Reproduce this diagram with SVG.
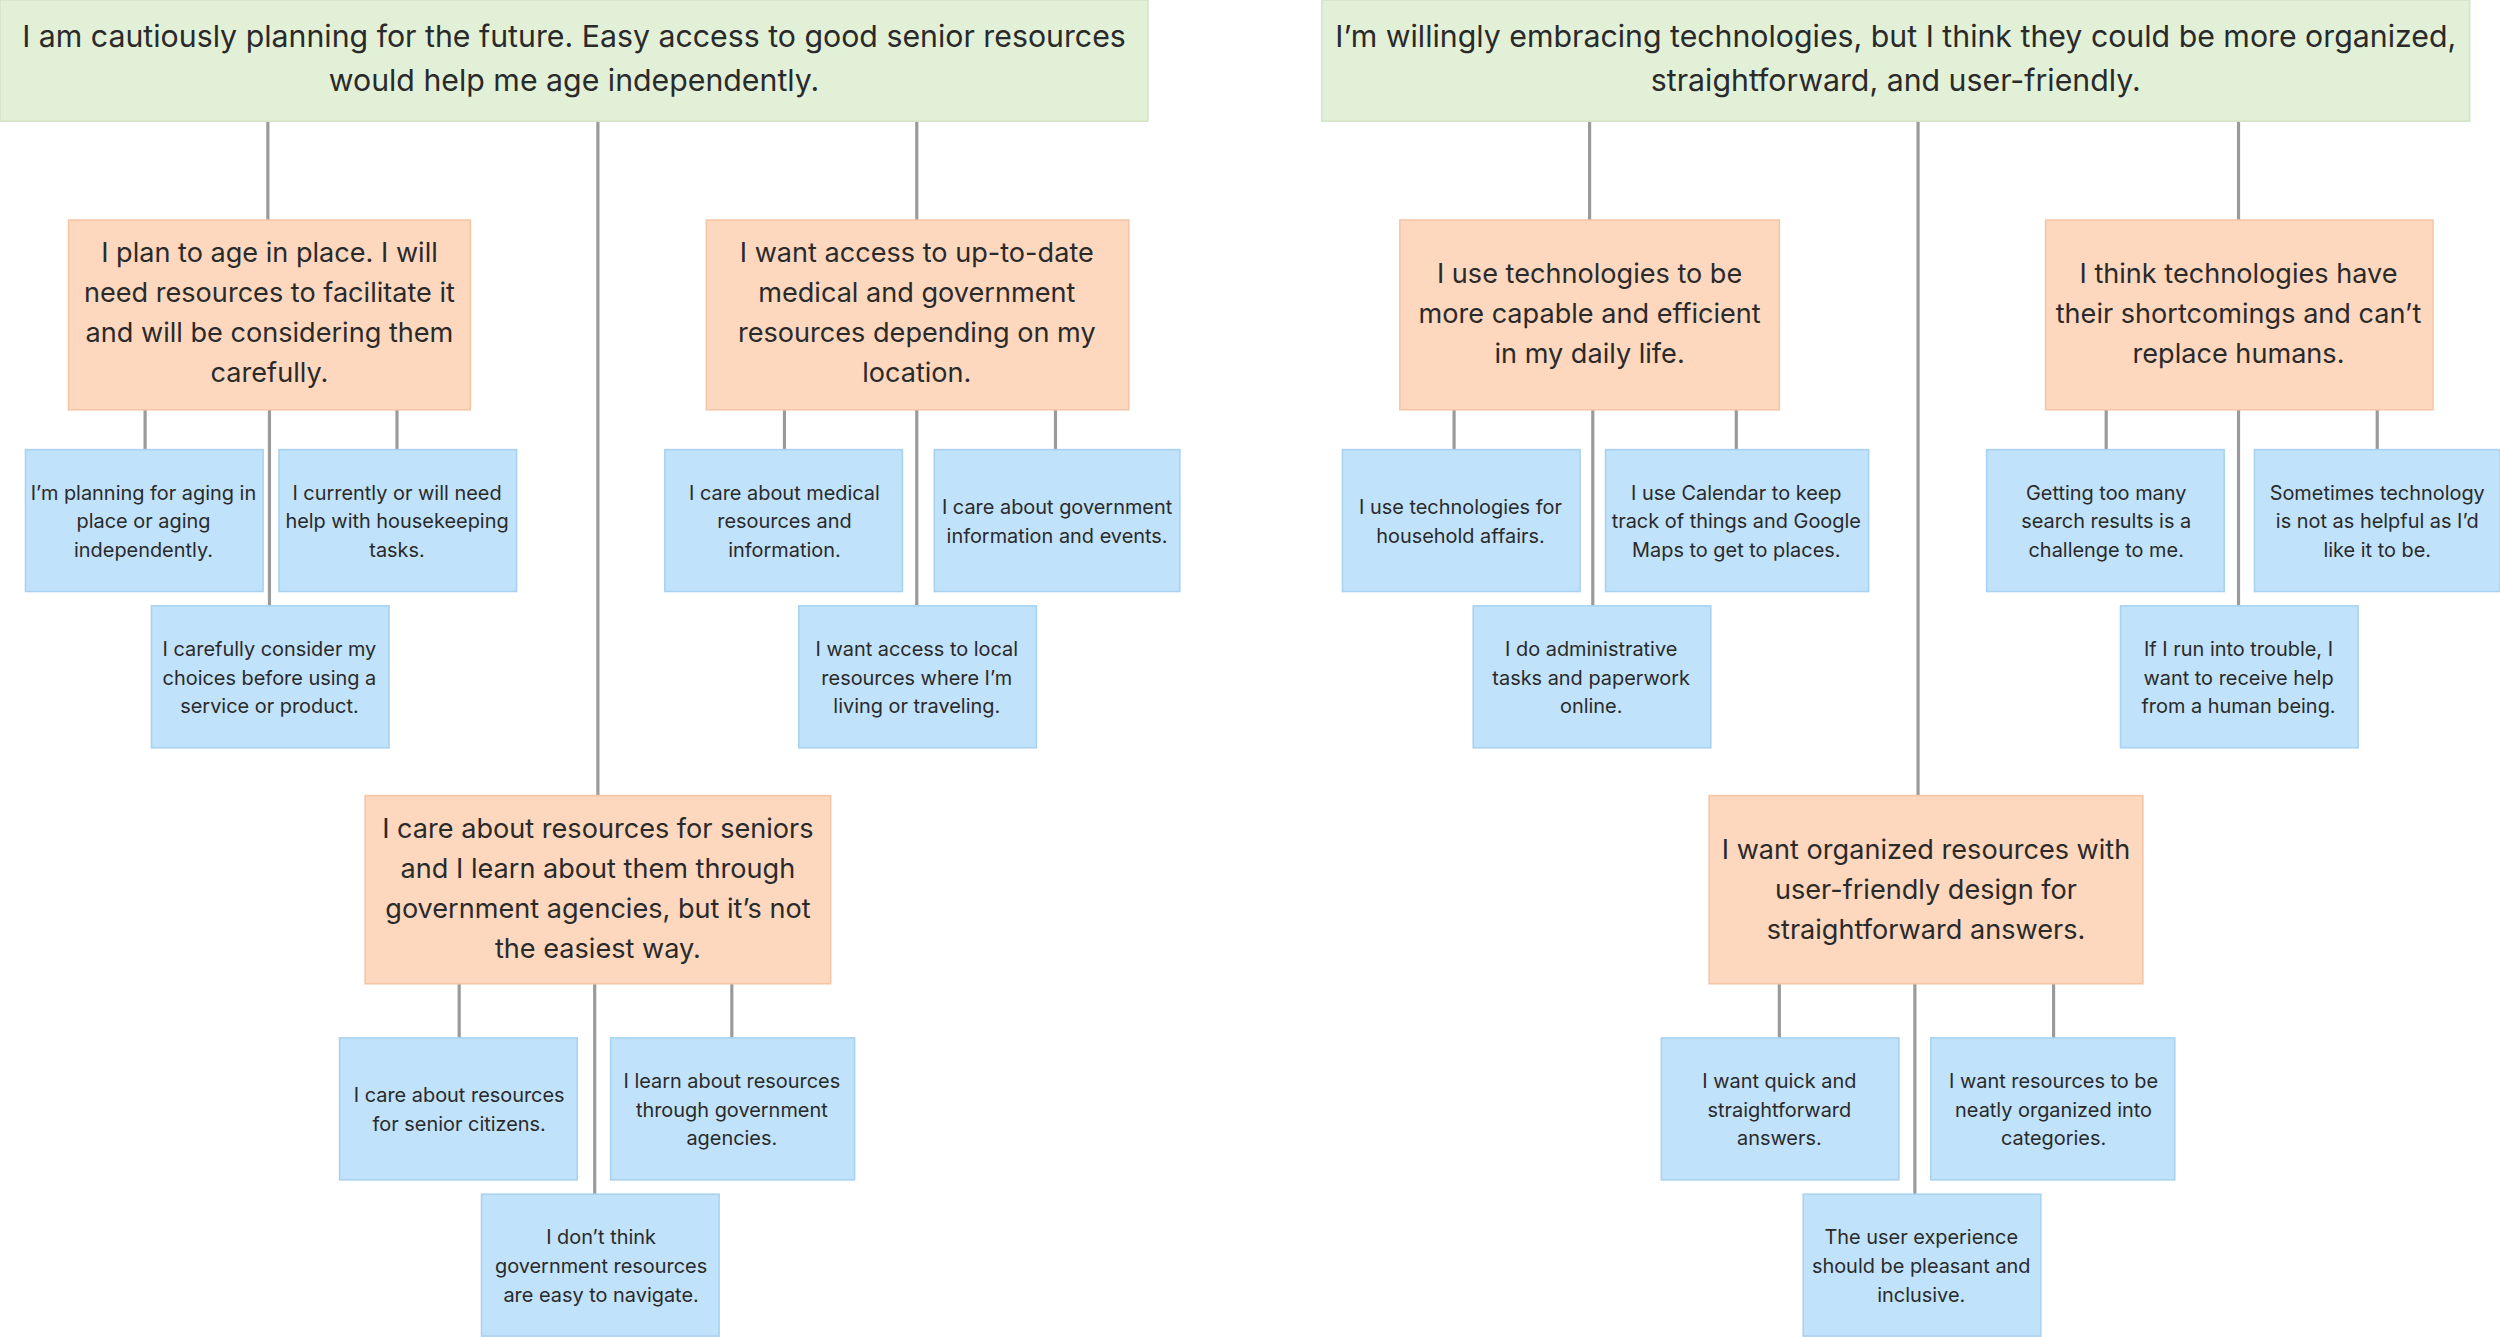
<svg xmlns="http://www.w3.org/2000/svg" width="2500" height="1337" viewBox="0 0 2500 1337">
<style>
text{font-family:Inter,"Noto Sans",sans-serif;fill:#2a2a2a;text-anchor:middle;dominant-baseline:middle}
.h rect{fill:#e3f0d8;stroke:#d3e5c6;stroke-width:1}
.h text{font-size:19px}
.o rect{fill:#fdd8bf;stroke:#f5c6a6;stroke-width:1}
.o text{font-size:17px}
.b rect{fill:#c1e2fb;stroke:#a9d2f0;stroke-width:1}
.b text{font-size:12.5px}
#c line{stroke:#9a9a9a;stroke-width:2}
</style>
<rect width="2500" height="1337" fill="#fff"/>
<g transform="scale(1.59439)">
<g id="c">
<line x1="168" y1="76" x2="168" y2="138"/><line x1="375" y1="76" x2="375" y2="499"/><line x1="575" y1="76" x2="575" y2="138"/>
<line x1="91" y1="257" x2="91" y2="282"/><line x1="169" y1="257" x2="169" y2="380"/><line x1="249" y1="257" x2="249" y2="282"/>
<line x1="492" y1="257" x2="492" y2="282"/><line x1="575" y1="257" x2="575" y2="380"/><line x1="662" y1="257" x2="662" y2="282"/>
<line x1="288" y1="617" x2="288" y2="651"/><line x1="373" y1="617" x2="373" y2="749"/><line x1="459" y1="617" x2="459" y2="651"/>
<line x1="997" y1="76" x2="997" y2="138"/><line x1="1203" y1="76" x2="1203" y2="499"/><line x1="1404" y1="76" x2="1404" y2="138"/>
<line x1="912" y1="257" x2="912" y2="282"/><line x1="999" y1="257" x2="999" y2="380"/><line x1="1089" y1="257" x2="1089" y2="282"/>
<line x1="1321" y1="257" x2="1321" y2="282"/><line x1="1404" y1="257" x2="1404" y2="380"/><line x1="1491" y1="257" x2="1491" y2="282"/>
<line x1="1116" y1="617" x2="1116" y2="651"/><line x1="1201" y1="617" x2="1201" y2="749"/><line x1="1288" y1="617" x2="1288" y2="651"/>
</g>
<g id="h1" class="h"><rect x="0" y="0" width="720" height="76"/><text x="360" y="24">I am cautiously planning for the future. Easy access to good senior resources</text><text x="360" y="52">would help me age independently.</text></g>
<g id="h2" class="h"><rect x="829" y="0" width="720" height="76"/><text x="1189" y="24">I’m willingly embracing technologies, but I think they could be more organized,</text><text x="1189" y="52">straightforward, and user-friendly.</text></g>
<g id="o1" class="o"><rect x="43" y="138" width="252" height="119"/><text x="169" y="160">I plan to age in place. I will</text><text x="169" y="185">need resources to facilitate it</text><text x="169" y="210">and will be considering them</text><text x="169" y="235">carefully.</text></g>
<g id="o2" class="o"><rect x="443" y="138" width="265" height="119"/><text x="575" y="160">I want access to up-to-date</text><text x="575" y="185">medical and government</text><text x="575" y="210">resources depending on my</text><text x="575" y="235">location.</text></g>
<g id="o3" class="o"><rect x="229" y="499" width="292" height="118"/><text x="375" y="521">I care about resources for seniors</text><text x="375" y="546">and I learn about them through</text><text x="375" y="571">government agencies, but it’s not</text><text x="375" y="596">the easiest way.</text></g>
<g id="o4" class="o"><rect x="878" y="138" width="238" height="119"/><text x="997" y="173">I use technologies to be</text><text x="997" y="198">more capable and efficient</text><text x="997" y="223">in my daily life.</text></g>
<g id="o5" class="o"><rect x="1283" y="138" width="243" height="119"/><text x="1404" y="173">I think technologies have</text><text x="1404" y="198">their shortcomings and can’t</text><text x="1404" y="223">replace humans.</text></g>
<g id="o6" class="o"><rect x="1072" y="499" width="272" height="118"/><text x="1208" y="534">I want organized resources with</text><text x="1208" y="559">user-friendly design for</text><text x="1208" y="584">straightforward answers.</text></g>
<g id="ba" class="b"><rect x="16" y="282" width="149" height="89"/><text x="90" y="310">I’m planning for aging in</text><text x="90" y="328">place or aging</text><text x="90" y="346">independently.</text></g>
<g id="bb" class="b"><rect x="175" y="282" width="149" height="89"/><text x="249" y="310">I currently or will need</text><text x="249" y="328">help with housekeeping</text><text x="249" y="346">tasks.</text></g>
<g id="bc" class="b"><rect x="95" y="380" width="149" height="89"/><text x="169" y="408">I carefully consider my</text><text x="169" y="426">choices before using a</text><text x="169" y="444">service or product.</text></g>
<g id="bd" class="b"><rect x="417" y="282" width="149" height="89"/><text x="492" y="310">I care about medical</text><text x="492" y="328">resources and</text><text x="492" y="346">information.</text></g>
<g id="be" class="b"><rect x="586" y="282" width="154" height="89"/><text x="663" y="319">I care about government</text><text x="663" y="337">information and events.</text></g>
<g id="bf" class="b"><rect x="501" y="380" width="149" height="89"/><text x="575" y="408">I want access to local</text><text x="575" y="426">resources where I’m</text><text x="575" y="444">living or traveling.</text></g>
<g id="bg" class="b"><rect x="213" y="651" width="149" height="89"/><text x="288" y="688">I care about resources</text><text x="288" y="706">for senior citizens.</text></g>
<g id="bh" class="b"><rect x="383" y="651" width="153" height="89"/><text x="459" y="679">I learn about resources</text><text x="459" y="697">through government</text><text x="459" y="715">agencies.</text></g>
<g id="bi" class="b"><rect x="302" y="749" width="149" height="89"/><text x="377" y="777">I don’t think</text><text x="377" y="795">government resources</text><text x="377" y="813">are easy to navigate.</text></g>
<g id="bj" class="b"><rect x="842" y="282" width="149" height="89"/><text x="916" y="319">I use technologies for</text><text x="916" y="337">household affairs.</text></g>
<g id="bk" class="b"><rect x="1007" y="282" width="165" height="89"/><text x="1089" y="310">I use Calendar to keep</text><text x="1089" y="328">track of things and Google</text><text x="1089" y="346">Maps to get to places.</text></g>
<g id="bl" class="b"><rect x="924" y="380" width="149" height="89"/><text x="998" y="408">I do administrative</text><text x="998" y="426">tasks and paperwork</text><text x="998" y="444">online.</text></g>
<g id="bm" class="b"><rect x="1246" y="282" width="149" height="89"/><text x="1321" y="310">Getting too many</text><text x="1321" y="328">search results is a</text><text x="1321" y="346">challenge to me.</text></g>
<g id="bn" class="b"><rect x="1414" y="282" width="154" height="89"/><text x="1491" y="310">Sometimes technology</text><text x="1491" y="328">is not as helpful as I’d</text><text x="1491" y="346">like it to be.</text></g>
<g id="bo" class="b"><rect x="1330" y="380" width="149" height="89"/><text x="1404" y="408">If I run into trouble, I</text><text x="1404" y="426">want to receive help</text><text x="1404" y="444">from a human being.</text></g>
<g id="bp" class="b"><rect x="1042" y="651" width="149" height="89"/><text x="1116" y="679">I want quick and</text><text x="1116" y="697">straightforward</text><text x="1116" y="715">answers.</text></g>
<g id="bq" class="b"><rect x="1211" y="651" width="153" height="89"/><text x="1288" y="679">I want resources to be</text><text x="1288" y="697">neatly organized into</text><text x="1288" y="715">categories.</text></g>
<g id="br" class="b"><rect x="1131" y="749" width="149" height="89"/><text x="1205" y="777">The user experience</text><text x="1205" y="795">should be pleasant and</text><text x="1205" y="813">inclusive.</text></g>
</g>
</svg>
